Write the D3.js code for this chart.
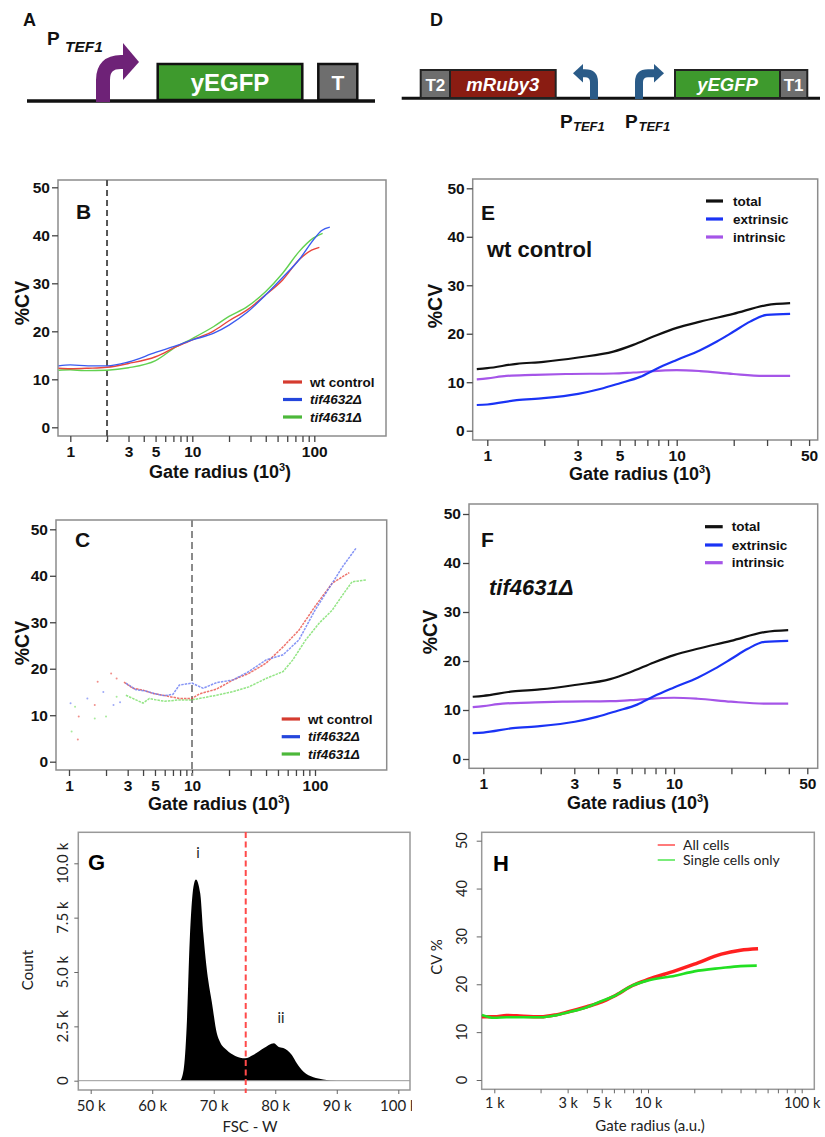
<!DOCTYPE html>
<html>
<head>
<meta charset="utf-8">
<script src="https://cdn.jsdelivr.net/npm/d3@7"></script>
<style>
  body { margin: 0; background: #fff; }
  svg { display: block; }
</style>
</head>
<body>
<div id="fig"></div>
<script>
// ---- panel B : %CV vs gate radius (10^3), construct A ----
const bWtControl = [[0.8,12.3],[1,12.2],[1.4,12.3],[2,12.5],[3,13.3],[5,14.7],[7.4,16.8],[10,18.2],[15,20.1],[20,22.2],[28,24.4],[40,27.6],[55,30.7],[75,34.9],[95,36.9],[110,37.5]];
const bTif4632 = [[0.8,12.8],[1,13.0],[1.4,12.8],[2,12.8],[3,13.6],[5,15.6],[7.4,17.0],[10,18.2],[15,19.6],[20,21.3],[28,23.9],[40,27.6],[55,31.2],[75,34.9],[98,39.0],[115,41.0],[134,41.7]];
const bTif4631 = [[0.8,11.9],[1,12.0],[1.3,11.8],[2,11.9],[3,12.4],[5,13.9],[7.4,16.8],[10,18.5],[15,21.0],[20,23.1],[28,25.1],[40,28.3],[55,32.1],[75,36.6],[98,39.4],[117,40.4]];

// ---- panel C : same, noisier ----
const cWtSparse = [[1.18,4.8],[1.2,9.7],[1.62,12.2],[1.71,17.2],[2.2,19.0],[2.44,17.9]];
const cWtTrace = [[2.8,17.1],[3.3,15.8],[4,15.4],[4.8,14.7],[5.8,14.3],[6.6,14.0],[7.9,13.6],[10,13.6],[11.5,14.6],[15.8,15.6],[21.6,17.6],[29,19.0],[40,21.2],[55,24.7],[74,28.3],[100,33.4],[138,38.4],[190,40.7]];
const c4632Sparse = [[1.03,12.6],[1.41,13.6],[1.9,15.0],[2.3,12.2],[2.6,12.8]];
const c4632Trace = [[2.9,16.9],[3.5,15.5],[4.2,15.2],[5,14.6],[6,14.2],[7,14.5],[7.9,16.5],[10,16.9],[12.3,15.8],[15.8,17.0],[21.6,17.6],[29,19.4],[40,21.9],[55,23.0],[74,26.2],[100,32.6],[138,38.4],[168,42.0],[215,45.9]];
const c4631Sparse = [[1.05,6.5],[1.12,11.8],[1.62,9.3],[2.0,9.7],[2.44,14.0]];
const c4631Trace = [[2.9,14.3],[3.5,13.3],[4,12.6],[4.5,13.6],[5.1,13.3],[6,13.0],[7.9,13.3],[10,13.3],[15.8,14.3],[21.6,15.1],[29,16.1],[40,17.9],[55,19.4],[66,21.9],[84,26.2],[108,29.8],[138,32.6],[168,35.9],[200,38.7],[260,39.1]];

// ---- panels E / F : noise decomposition ----
const eTotal = [[0.88,12.7],[1,12.9],[1.43,13.8],[1.98,14.2],[3.02,15.1],[4.63,16.3],[5.9,17.7],[7.84,19.7],[10,21.2],[13.3,22.5],[19.9,24.1],[29.9,25.9],[39.7,26.3]];
const eExtrinsic = [[0.88,5.3],[1,5.4],[1.43,6.3],[1.98,6.7],[3.02,7.6],[3.94,8.6],[5.02,9.8],[6.41,11.1],[7.84,12.8],[10,14.6],[13.3,16.6],[16.3,18.4],[19.9,20.4],[24.4,22.5],[29.9,23.9],[39.7,24.1]];
const eIntrinsic = [[0.88,10.6],[1,10.8],[1.26,11.3],[1.74,11.5],[2.6,11.7],[4.63,11.8],[5.9,12.0],[10,12.5],[13.3,12.3],[19.9,11.7],[29.9,11.3],[39.7,11.3]];
// F looks the same as E
const fTotal = eTotal, fExtrinsic = eExtrinsic, fIntrinsic = eIntrinsic;

// ---- panel G : FSC-W histogram (k, count) ----
const gHist = [[48,0],[64.5,0],[65.1,490],[65.6,2480],[66.1,6470],[66.7,8920],[67.1,9260],[67.8,8620],[68.3,6780],[68.8,5300],[69.1,4630],[69.7,3600],[70.5,2180],[71.0,1790],[72.1,1410],[73.5,1140],[75.1,1030],[76.4,1180],[78.1,1490],[79.8,1720],[80.5,1560],[81.3,1500],[82.7,1180],[83.5,800],[84.6,410],[86.2,160],[87.8,60],[90,0],[103,0]];
const gYTicks = [0, 2500, 5000, 7500, 10000];
const gYLabels = ['0', '2.5 k', '5.0 k', '7.5 k', '10.0 k'];
const gXTicks = [50, 60, 70, 80, 90, 100];

// ---- panel H : all cells vs single cells (k) ----
const hAllCells = [[0.83,13.2],[1,13.2],[1.2,13.5],[1.4,13.4],[2,13.2],[2.5,13.6],[3,14.2],[4,15.3],[5,16.3],[6,17.5],[8,19.8],[10,21.0],[15,22.8],[20,24.2],[30,26.3],[40,27.1],[52,27.4]];
const hSingleCells = [[0.83,13.6],[1,13.0],[1.2,13.1],[2,13.1],[2.5,13.5],[3,14.1],[4,15.2],[5,16.5],[6,17.5],[8,19.8],[10,20.8],[15,21.8],[20,22.7],[30,23.4],[40,23.8],[51,23.9]];

const cvYTicks = [0, 10, 20, 30, 40, 50];
const logTicks100 = [1,2,3,4,5,6,7,8,9,10,20,30,40,50,60,70,80,90,100];
const logTicks50 = [1,2,3,4,5,6,7,8,9,10,20,30,40,50];

const bold = "'Liberation Sans', Arial, sans-serif";
const light = "Lato, 'Open Sans', sans-serif";

const svg = d3.select('#fig').append('svg')
	.attr('width', 825)
	.attr('height', 1137);
svg.append('rect').attr('width', 825).attr('height', 1137).attr('fill', '#fff');

function txt(g, s, x, y, size, opts) {
	opts = opts || {};
	return g.append('text')
		.attr('x', x).attr('y', y)
		.attr('font-family', opts.family || bold)
		.attr('font-weight', opts.weight || 'bold')
		.attr('font-style', opts.italic ? 'italic' : 'normal')
		.attr('font-size', size)
		.attr('fill', opts.fill || '#111')
		.attr('text-anchor', opts.anchor || 'start')
		.text(s);
}

// ================= schematics A and D =================
const dia = svg.append('g');
txt(dia, 'A', 23, 26, 18);
txt(dia, 'P', 47, 45, 19);
txt(dia, 'TEF1', 65, 52, 15.5, {italic: true});
dia.append('line').attr('x1', 27).attr('x2', 375).attr('y1', 101).attr('y2', 101)
	.attr('stroke', '#111').attr('stroke-width', 3.5);
dia.append('path').attr('d', 'M103,102 V80 Q103,62 121,62 H125')
	.attr('fill', 'none').attr('stroke', '#6e2277').attr('stroke-width', 14);
dia.append('path').attr('d', 'M123,43 L139,62 L123,80 Z').attr('fill', '#6e2277');
dia.append('rect').attr('x', 157.7).attr('y', 64).attr('width', 144.6).attr('height', 36)
	.attr('fill', '#3e9a2d').attr('stroke', '#111').attr('stroke-width', 2.5);
txt(dia, 'yEGFP', 230, 90.5, 24, {fill: '#fff', anchor: 'middle'});
dia.append('rect').attr('x', 318.3).attr('y', 64).attr('width', 39).attr('height', 36)
	.attr('fill', '#6e6e6e').attr('stroke', '#111').attr('stroke-width', 2.5);
txt(dia, 'T', 337.8, 90, 21, {fill: '#fff', anchor: 'middle'});

txt(dia, 'D', 430, 26, 18);
dia.append('line').attr('x1', 401.7).attr('x2', 820).attr('y1', 98.3).attr('y2', 98.3)
	.attr('stroke', '#111').attr('stroke-width', 3);
const dBoxes = [
	{x0: 420.7, x1: 450, fill: '#6e6e6e', label: 'T2', italic: false, size: 17},
	{x0: 450, x1: 555.7, fill: '#8a1c12', label: 'mRuby3', italic: true, size: 18.5},
	{x0: 675, x1: 780, fill: '#3e9a2d', label: 'yEGFP', italic: true, size: 18.5},
	{x0: 780, x1: 807.3, fill: '#6e6e6e', label: 'T1', italic: false, size: 17}
];
dBoxes.forEach(function(b){
	dia.append('rect').attr('x', b.x0).attr('y', 70).attr('width', b.x1 - b.x0).attr('height', 28)
		.attr('fill', b.fill).attr('stroke', '#222').attr('stroke-width', 2);
	txt(dia, b.label, (b.x0 + b.x1) / 2, 90.5, b.size, {fill: '#fff', anchor: 'middle', italic: b.italic});
});
// divergent promoters
dia.append('path').attr('d', 'M594,99 V82 Q594,73.3 585,73.3 H582')
	.attr('fill', 'none').attr('stroke', '#2a5b88').attr('stroke-width', 8);
dia.append('path').attr('d', 'M583,64 L573,73.3 L583,82.6 Z').attr('fill', '#2a5b88');
dia.append('path').attr('d', 'M639,99 V82 Q639,73.3 648,73.3 H654')
	.attr('fill', 'none').attr('stroke', '#2a5b88').attr('stroke-width', 8);
dia.append('path').attr('d', 'M654,64 L664,73.3 L654,82.6 Z').attr('fill', '#2a5b88');
txt(dia, 'P', 560, 127.5, 19);
txt(dia, 'TEF1', 573, 131, 13, {italic: true});
txt(dia, 'P', 625, 127.5, 19);
txt(dia, 'TEF1', 638.5, 131, 13, {italic: true});

// ================= %CV panels (B, C, E, F) =================
function cvPanel(p) {
	const g = svg.append('g');
	const x = d3.scaleLog().domain(p.xDom).range(p.xRange);
	const y = d3.scaleLinear().domain([0, 50]).range(p.yRange);

	g.append('rect')
		.attr('x', p.box[0]).attr('y', p.box[1])
		.attr('width', p.box[2] - p.box[0]).attr('height', p.box[3] - p.box[1])
		.attr('fill', 'none').attr('stroke', '#8c8c8c').attr('stroke-width', 1.5);

	const xa = g.append('g').attr('transform', 'translate(0,' + p.box[3] + ')')
		.call(d3.axisBottom(x).tickValues(p.xTicks).tickSize(6).tickPadding(4)
			.tickFormat(function(d){ return p.xLabels.indexOf(d) >= 0 ? d : ''; }));
	const ya = g.append('g').attr('transform', 'translate(' + p.box[0] + ',0)')
		.call(d3.axisLeft(y).tickValues(cvYTicks).tickSize(6).tickPadding(2));
	[xa, ya].forEach(function(a){
		a.select('.domain').remove();
		a.selectAll('line').attr('stroke', '#444').attr('stroke-width', 1.3);
		a.selectAll('text').attr('font-family', bold).attr('font-weight', 'bold')
			.attr('font-size', 15.5).attr('fill', '#111');
	});

	// axis titles
	const t = txt(g, 'Gate radius (10', p.xTitle[0], p.xTitle[1], 18, {anchor: 'middle'});
	t.append('tspan').attr('font-size', 11).attr('dy', -7).text('3');
	t.append('tspan').attr('dy', 7).text(')');
	txt(g, '%CV', 0, 0, 19.5, {anchor: 'middle'})
		.attr('dy', '0.35em')
		.attr('transform', 'translate(' + p.yTitle[0] + ',' + p.yTitle[1] + ') rotate(-90)');

	txt(g, p.letter, p.letterPos[0], p.letterPos[1], 21);
	return {g: g, x: x, y: y};
}

function legend(g, items, lx, tx, ys, size) {
	items.forEach(function(it, i){
		g.append('line').attr('x1', lx[0]).attr('x2', lx[1]).attr('y1', ys[i]).attr('y2', ys[i])
			.attr('stroke', it.color).attr('stroke-width', 3.2);
		txt(g, it.label, tx, ys[i], size, {italic: it.italic}).attr('dy', '0.35em');
	});
}

const lineGen = function(x, y, curve) {
	return d3.line().x(function(d){ return x(d[0]); }).y(function(d){ return y(d[1]); })
		.curve(curve || d3.curveMonotoneX);
};

// ---- B ----
const B = cvPanel({
	box: [58, 180, 386, 436], xDom: [1, 100], xRange: [70.3, 314.3], yRange: [427.3, 187.3],
	xTicks: logTicks100, xLabels: [1, 3, 5, 10, 100],
	xTitle: [220, 478], yTitle: [22, 303], letter: 'B', letterPos: [76, 219]
});
B.g.append('line').attr('x1', B.x(2)).attr('x2', B.x(2)).attr('y1', 180).attr('y2', 442)
	.attr('stroke', '#555').attr('stroke-width', 2).attr('stroke-dasharray', '6,4');
[[bTif4631, '#62d150'], [bWtControl, '#e8453c'], [bTif4632, '#3b5bf0']].forEach(function(s){
	B.g.append('path').datum(s[0]).attr('d', lineGen(B.x, B.y))
		.attr('fill', 'none').attr('stroke', s[1]).attr('stroke-width', 1.4);
});
legend(B.g, [
	{label: 'wt control', color: '#d53b2f'},
	{label: 'tif4632Δ', color: '#2446dc', italic: true},
	{label: 'tif4631Δ', color: '#4cb83a', italic: true}
], [283, 302], 310, [382, 399.5, 417], 13.5);

// ---- C ----
const C = cvPanel({
	box: [56, 520, 386.7, 770], xDom: [1, 100], xRange: [69, 315], yRange: [761.7, 529.3],
	xTicks: logTicks100, xLabels: [1, 3, 5, 10, 100],
	xTitle: [219, 810], yTitle: [22, 643], letter: 'C', letterPos: [75, 547]
});
C.g.append('line').attr('x1', C.x(10)).attr('x2', C.x(10)).attr('y1', 520).attr('y2', 776)
	.attr('stroke', '#8a8a8a').attr('stroke-width', 2).attr('stroke-dasharray', '7,4');
[
	[c4631Sparse, c4631Trace, '#6fdc5c'],
	[cWtSparse, cWtTrace, '#e8453c'],
	[c4632Sparse, c4632Trace, '#5d72f2']
].forEach(function(s){
	C.g.append('path').datum(s[1]).attr('d', lineGen(C.x, C.y, d3.curveLinear))
		.attr('fill', 'none').attr('stroke', s[2]).attr('stroke-width', 1.5)
		.attr('stroke-dasharray', '2.5,1').attr('opacity', 0.75);
	C.g.selectAll(null).data(s[0]).enter().append('circle')
		.attr('cx', function(d){ return C.x(d[0]); })
		.attr('cy', function(d){ return C.y(d[1]); })
		.attr('r', 1).attr('fill', s[2]).attr('opacity', 0.6);
});
legend(C.g, [
	{label: 'wt control', color: '#d53b2f'},
	{label: 'tif4632Δ', color: '#2446dc', italic: true},
	{label: 'tif4631Δ', color: '#4cb83a', italic: true}
], [281.7, 300], 308, [719, 736.7, 754], 13.5);

// ---- E and F ----
function noisePanel(P, total, extr, intr, legX, legT, legY, subtitle) {
	[[intr, '#a555e8'], [extr, '#1a33f5'], [total, '#111']].forEach(function(s){
		P.g.append('path').datum(s[0]).attr('d', lineGen(P.x, P.y))
			.attr('fill', 'none').attr('stroke', s[1]).attr('stroke-width', 2.2);
	});
	legend(P.g, [
		{label: 'total', color: '#111'},
		{label: 'extrinsic', color: '#1a33f5'},
		{label: 'intrinsic', color: '#a555e8'}
	], legX, legT, legY, 13.5);
	txt(P.g, subtitle.text, subtitle.x, subtitle.y, 22, {italic: subtitle.italic});
}

const E = cvPanel({
	box: [472.7, 179, 817.7, 440], xDom: [1, 10], xRange: [487.3, 676.7], yRange: [430.7, 188.3],
	xTicks: logTicks50, xLabels: [1, 3, 5, 10, 50],
	xTitle: [640, 480], yTitle: [435, 306], letter: 'E', letterPos: [481, 220]
});
noisePanel(E, eTotal, eExtrinsic, eIntrinsic, [706, 723], 733, [201, 219, 237],
	{text: 'wt control', x: 487, y: 257, italic: false});

const F = cvPanel({
	box: [469, 504, 817.7, 768.3], xDom: [1, 10], xRange: [483.3, 674], yRange: [759, 514],
	xTicks: logTicks50, xLabels: [1, 3, 5, 10, 50],
	xTitle: [638, 809], yTitle: [430, 632], letter: 'F', letterPos: [481, 547]
});
noisePanel(F, fTotal, fExtrinsic, fIntrinsic, [705, 722.7], 731.7, [526.7, 545, 562.7],
	{text: 'tif4631Δ', x: 489, y: 595, italic: true});

// ================= G : histogram =================
const clipG = svg.append('defs').append('clipPath').attr('id', 'clipG');
clipG.append('rect').attr('x', 0).attr('y', 820).attr('width', 412).attr('height', 317);
const G = svg.append('g').attr('clip-path', 'url(#clipG)');
const gx = d3.scaleLinear().domain([50, 100]).range([90.7, 398.3]);
const gy = d3.scaleLinear().domain([0, 10000]).range([1080.7, 863.3]);

G.append('path').datum(gHist)
	.attr('d', d3.area().x(function(d){ return gx(d[0]); }).y0(gy(0)).y1(function(d){ return gy(d[1]); })
		.curve(d3.curveMonotoneX))
	.attr('fill', '#000');
G.append('line').attr('x1', 78.3).attr('x2', 410).attr('y1', gy(0)).attr('y2', gy(0))
	.attr('stroke', '#999').attr('stroke-width', 1);
G.append('rect').attr('x', 78.3).attr('y', 832.3).attr('width', 410 - 78.3).attr('height', 1090 - 832.3)
	.attr('fill', 'none').attr('stroke', '#999').attr('stroke-width', 1.5);
G.append('line').attr('x1', gx(75.2)).attr('x2', gx(75.2)).attr('y1', 832).attr('y2', 1093)
	.attr('stroke', '#ff4a4a').attr('stroke-width', 2).attr('stroke-dasharray', '6,3.5');

const gxa = G.append('g').attr('transform', 'translate(0,1090)')
	.call(d3.axisBottom(gx).tickValues(gXTicks).tickSize(4).tickPadding(6)
		.tickFormat(function(d){ return d + ' k'; }));
const gya = G.append('g').attr('transform', 'translate(78.3,0)')
	.call(d3.axisLeft(gy).tickValues(gYTicks).tickSize(4).tickFormat(''));
[gxa, gya].forEach(function(a){
	a.select('.domain').remove();
	a.selectAll('line').attr('stroke', '#666');
	a.selectAll('text').attr('font-family', light).attr('font-size', 15).attr('fill', '#222');
});
gYTicks.forEach(function(v, i){
	txt(G, gYLabels[i], 0, 0, 15, {family: light, weight: 'normal', anchor: 'middle', fill: '#222'})
		.attr('dy', '0.35em')
		.attr('transform', 'translate(63,' + gy(v) + ') rotate(-90)');
});
txt(G, 'Count', 0, 0, 15, {family: light, weight: 'normal', anchor: 'middle', fill: '#222'})
	.attr('dy', '0.35em').attr('transform', 'translate(28,970) rotate(-90)');
txt(G, 'FSC - W', 250, 1132, 15, {family: light, weight: 'normal', anchor: 'middle', fill: '#222'});
txt(G, 'i', 198, 858, 14.5, {family: light, weight: 'normal', anchor: 'middle', fill: '#222'});
txt(G, 'ii', 281, 1023, 14.5, {family: light, weight: 'normal', anchor: 'middle', fill: '#222'});
txt(G, 'G', 88, 870, 22, {fill: '#000'});

// ================= H : all cells vs single cells =================
const H = svg.append('g');
const hx = d3.scaleLog().domain([1, 100]).range([494.3, 801.7]);
const hy = d3.scaleLinear().domain([0, 50]).range([1080, 840.7]);
H.append('rect').attr('x', 481.7).attr('y', 832.3).attr('width', 814.3 - 481.7).attr('height', 1089.3 - 832.3)
	.attr('fill', 'none').attr('stroke', '#999').attr('stroke-width', 1.5);
H.append('path').datum(hAllCells).attr('d', lineGen(hx, hy))
	.attr('fill', 'none').attr('stroke', '#ff2020').attr('stroke-width', 3.5);
H.append('path').datum(hSingleCells).attr('d', lineGen(hx, hy))
	.attr('fill', 'none').attr('stroke', '#22e022').attr('stroke-width', 2.6);

const hxa = H.append('g').attr('transform', 'translate(0,1089.3)')
	.call(d3.axisBottom(hx).tickValues(logTicks100).tickSize(4).tickPadding(4)
		.tickFormat(function(d){ return [1, 3, 5, 10, 100].indexOf(d) >= 0 ? d + ' k' : ''; }));
const hya = H.append('g').attr('transform', 'translate(481.7,0)')
	.call(d3.axisLeft(hy).tickValues(cvYTicks).tickSize(5).tickFormat(''));
[hxa, hya].forEach(function(a){
	a.select('.domain').remove();
	a.selectAll('line').attr('stroke', '#666');
	a.selectAll('text').attr('font-family', light).attr('font-size', 14.5).attr('fill', '#222');
});
cvYTicks.forEach(function(v){
	txt(H, String(v), 0, 0, 14.5, {family: light, weight: 'normal', anchor: 'middle', fill: '#222'})
		.attr('dy', '0.35em')
		.attr('transform', 'translate(462,' + hy(v) + ') rotate(-90)');
});
txt(H, 'CV %', 0, 0, 15, {family: light, weight: 'normal', anchor: 'middle', fill: '#222'})
	.attr('dy', '0.35em').attr('transform', 'translate(437,957) rotate(-90)');
txt(H, 'Gate radius (a.u.)', 650, 1131, 15, {family: light, weight: 'normal', anchor: 'middle', fill: '#222'});
txt(H, 'H', 493, 871, 22, {fill: '#000'});
[['All cells', '#ff2020', 845], ['Single cells only', '#22e022', 860]].forEach(function(l){
	H.append('line').attr('x1', 657.7).attr('x2', 675).attr('y1', l[2]).attr('y2', l[2])
		.attr('stroke', l[1]).attr('stroke-width', 1.2);
	txt(H, l[0], 683, l[2], 14, {family: light, weight: 'normal', fill: '#222'}).attr('dy', '0.35em');
});
</script>
</body>
</html>
